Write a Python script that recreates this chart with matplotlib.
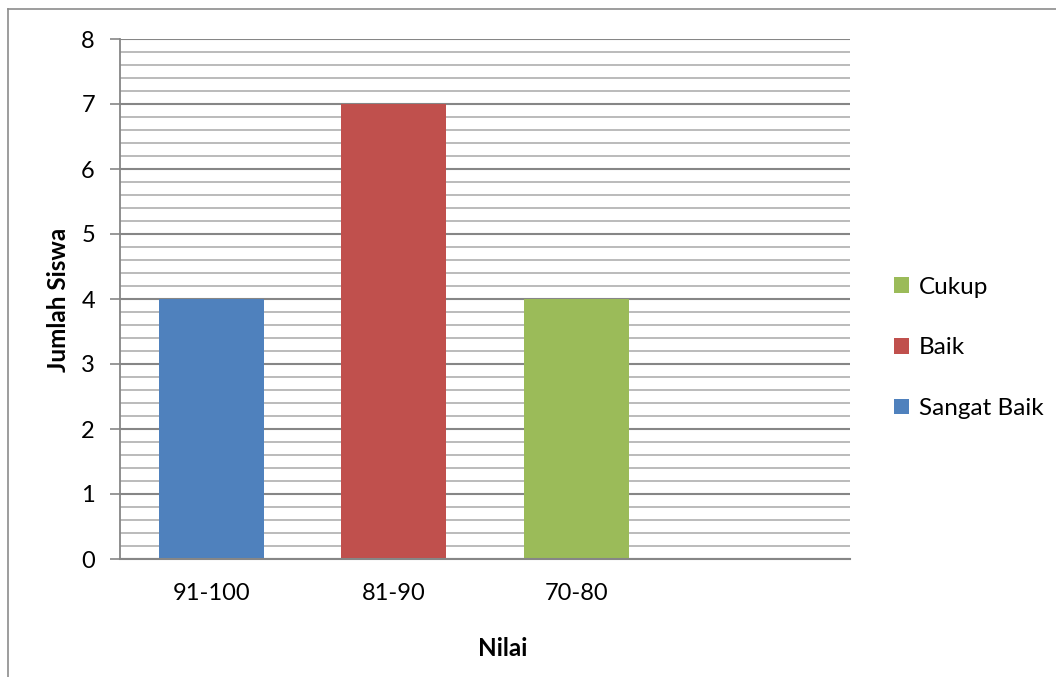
import numpy as np
import matplotlib
matplotlib.use("Agg")
import matplotlib.pyplot as plt
from matplotlib.lines import Line2D

plt.rcParams['font.family'] = ['Lato', 'DejaVu Sans']

categories = ['91-100', '81-90', '70-80', '']
series_names = ['Sangat Baik', 'Baik', 'Cukup']
series_values = [4, 7, 4]
series_colors = ['#4F81BD', '#C0504D', '#9BBB59']

W, H = 1056, 677
fig = plt.figure(figsize=(W / 100, H / 100), dpi=100)

# light frame round the chart (only left and top show)
fig.add_artist(Line2D([8 / W, 8 / W], [0, 1 - 9 / H], color='#8c8c8c', lw=1.2))
fig.add_artist(Line2D([8 / W, 1], [1 - 9 / H, 1 - 9 / H], color='#8c8c8c', lw=1.2))

ax = fig.add_axes([120 / W, 1 - 559 / H, 730 / W, 520 / H])

x = np.arange(len(categories))
bars = []
for i, (name, val, col) in enumerate(zip(series_names, series_values, series_colors)):
    b = ax.bar(x[i], val, width=0.575, color=col, label=name, zorder=3)
    bars.append(b)

ax.set_xlim(-0.5, len(categories) - 0.5)
ax.set_ylim(0, 8)
ax.set_yticks(np.arange(0, 9, 1))
ax.set_yticks(np.arange(0, 8.01, 0.2), minor=True)
ax.set_xticks(x)
ax.set_xticklabels(categories, fontsize=17)
ax.tick_params(axis='y', which='major', labelsize=17, length=7, width=1.2,
               color='#868686', pad=11)
ax.tick_params(axis='y', which='minor', length=0)
ax.tick_params(axis='x', length=0, pad=17)

ax.grid(axis='y', which='minor', color='#b5b5b5', lw=1.3, zorder=1)
ax.grid(axis='y', which='major', color='#868686', lw=1.5, zorder=2)

for s in ['top', 'right']:
    ax.spines[s].set_visible(False)
ax.spines['left'].set_color('#868686')
ax.spines['left'].set_linewidth(1.3)
ax.spines['bottom'].set_color('#868686')
ax.spines['bottom'].set_linewidth(1.5)
ax.spines['bottom'].set_zorder(4)

fig.text(59 / W, 1 - 300 / H, 'Jumlah Siswa', rotation=90, fontsize=17.5,
         fontweight='bold', ha='center', va='center')
fig.text(503 / W, 1 - 648 / H, 'Nilai', fontsize=17.5, fontweight='bold',
         ha='center', va='center')

handles = [bars[i] for i in range(len(bars))][::-1]
labels = series_names[::-1]
ax.legend(handles, labels, loc='center left', bbox_to_anchor=(894 / W, 1 - 348 / H),
          bbox_transform=fig.transFigure, frameon=False, fontsize=17.5,
          handlelength=0.62, handleheight=0.62, handletextpad=0.4,
          labelspacing=1.63, borderaxespad=0, borderpad=0)

fig.savefig('out.png', dpi=100)
